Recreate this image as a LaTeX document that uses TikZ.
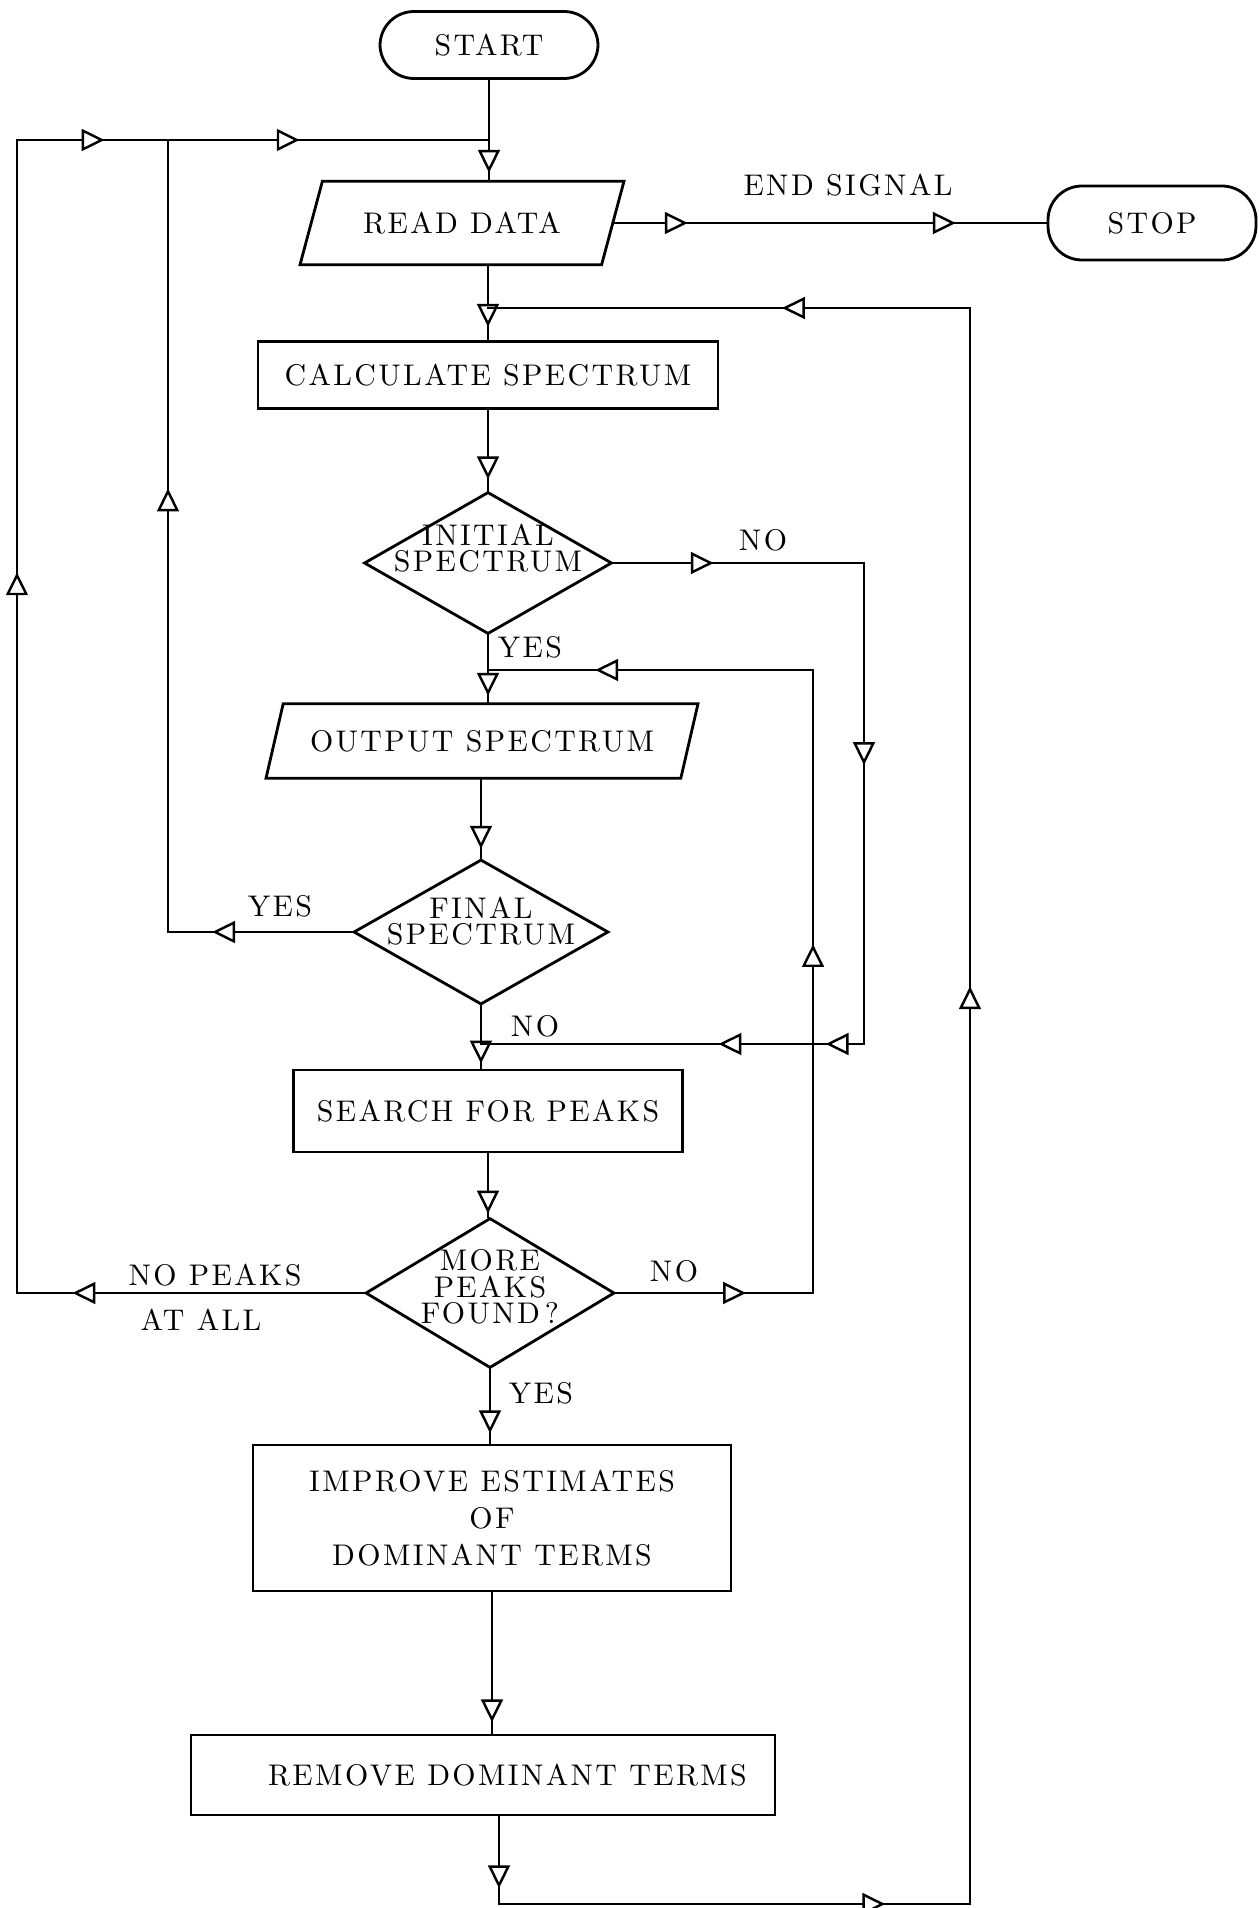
\documentclass[tikz,border=0pt]{standalone}
\usepackage{fontspec}
\setmainfont{lmroman10-regular.otf}[LetterSpace=8]
\usetikzlibrary{shapes.geometric, arrows.meta, decorations.markings}

\begin{document}
\begin{tikzpicture}[
    font=\fontsize{8.5}{10}\selectfont,
    line/.style={line width=0.7pt, line cap=rect},
    tipat/.style={postaction={decorate, decoration={markings,
        mark=at position #1 with {\arrow{Triangle[fill=white, length=6.5pt, width=6.2pt, line width=0.7pt]}}}}},
    term/.style={draw, line width=0.8pt, rectangle, rounded corners=0.34cm, inner sep=0pt},
    proc/.style={draw, line width=0.8pt, rectangle, inner sep=0pt, align=center},
    io/.style={draw, line width=0.8pt, trapezium, trapezium left angle=75, trapezium right angle=105,
        trapezium stretches body, inner xsep=0pt, text height=6pt, text depth=0pt},
    decide/.style={draw, line width=0.8pt, diamond, inner sep=0pt},
    diatext/.style={align=center, font=\fontsize{8.5}{7.6}\selectfont}
  ]
  \useasboundingbox (0,0) rectangle (12.58,-19.08);

  % --- boxes of the main column ---
  \node[term, minimum width=2.18cm, minimum height=0.67cm] (start) at (4.89,-0.45) {START};
  \node[io, inner ysep=8.9pt, minimum width=3.24cm] (read) at (4.62,-2.23) {READ DATA};
  \node[proc, minimum width=4.60cm, minimum height=0.67cm] (calc) at (4.88,-3.75) {CALCULATE SPECTRUM};
  \node[decide, minimum width=2.48cm, minimum height=1.42cm,
    label={[diatext, yshift=0.15cm]center:INITIAL\\SPECTRUM}] (init) at (4.88,-5.63) {};
  \node[io, trapezium left angle=77, trapezium right angle=103, inner ysep=7.6pt,
    minimum width=4.32cm] (output) at (4.82,-7.41) {OUTPUT SPECTRUM};
  \node[decide, minimum width=2.55cm, minimum height=1.45cm,
    label={[diatext, yshift=0.11cm]center:FINAL\\SPECTRUM}] (final) at (4.81,-9.32) {};
  \node[proc, minimum width=3.89cm, minimum height=0.82cm] (search) at (4.88,-11.11) {SEARCH FOR PEAKS};
  \node[decide, minimum width=2.49cm, minimum height=1.50cm,
    label={[diatext, yshift=0.06cm]center:MORE\\PEAKS\\FOUND\,?}] (more) at (4.90,-12.93) {};
  \node[proc, minimum width=4.78cm, minimum height=1.46cm, font=\fontsize{8.5}{10.5}\selectfont]
    (improve) at (4.92,-15.18) {IMPROVE ESTIMATES\\OF\\DOMINANT TERMS};
  \node[proc, minimum width=5.84cm, minimum height=0.80cm]
    (remove) at (4.83,-17.75) {\hspace*{0.49cm}REMOVE DOMINANT TERMS};
  \node[term, minimum width=2.08cm, minimum height=0.74cm] (stop) at (11.52,-2.23) {STOP};

  % --- corners of the loops ---
  \coordinate (tl) at (0.17,-1.40);
  \coordinate (tm) at (1.68,-1.40);
  \coordinate (ts) at (start.south |- tl);
  \coordinate (rr) at (9.70,-3.08);
  \coordinate (rb) at (4.99,-19.04);
  \coordinate (nr) at (8.64,-10.44);
  \coordinate (pr) at (8.13,-6.70);

  % --- main flow ---
  \draw[line, tipat=0.93] (start.south) -- (start.south |- read.north);
  \draw[line, tipat=0.82] (read.south -| calc.north) -- (calc.north);
  \draw[line, tipat=0.86] (calc.south) -- (init.north);
  \draw[line, tipat=0.9] (init.south) -- (init.south |- output.north);
  \draw[line, tipat=0.88] (final.north |- output.south) -- (final.north);
  \draw[line, tipat=0.92] (final.south) -- (final.south |- search.north);
  \draw[line, tipat=0.95] (search.south) -- (search.south |- more.north);
  \draw[line, tipat=0.86] (more.south) -- (more.south |- improve.north);
  \draw[line, tipat=0.92] (improve.south) -- (improve.south |- remove.north);

  % end signal
  \draw[line, tipat=0.17, tipat=0.79] (read.east) -- (read.east -| stop.west);

  % back to calculate spectrum
  \draw[line, tipat=0.82] (rb |- remove.south) -- (rb);
  \draw[line, tipat=0.82] (rb) -- (rb -| rr);
  \draw[line, tipat=0.575] (rb -| rr) -- (rr);
  \draw[line, tipat=0.39] (rr) -- (rr -| calc.north);

  % initial spectrum: no
  \draw[line, tipat=0.40] (init.east) -- (init.east -| nr);
  \draw[line, tipat=0.42] (init.east -| nr) -- (nr);
  \draw[line, tipat=0.10, tipat=0.38] (nr) -- (nr -| final.south);

  % more peaks: no
  \draw[line, tipat=0.66] (more.east) -- (more.east -| pr);
  \draw[line, tipat=0.56] (more.east -| pr) -- (pr);
  \draw[line, tipat=0.67] (pr) -- (pr -| init.south);

  % final spectrum: yes
  \draw[line, tipat=0.76] (final.west) -- (final.west -| tm);
  \draw[line, tipat=0.56] (final.west -| tm) -- (tm);

  % no peaks at all
  \draw[line, tipat=0.84] (more.west) -- (more.west -| tl);
  \draw[line, tipat=0.625] (more.west -| tl) -- (tl);
  \draw[line, tipat=0.58] (tl) -- (tm);
  \draw[line, tipat=0.41] (tm) -- (ts);

  % --- labels ---
  \node (endsig) at (8.48,-1.85) {END SIGNAL};
  \node (noinit) at (7.63,-5.40) {NO};
  \node (yesinit) at (5.30,-6.47) {YES};
  \node (yesfinal) at (2.80,-9.06) {YES};
  \node (nofinal) at (5.35,-10.26) {NO};
  \node (nopeaks) at (2.15,-12.75) {NO PEAKS};
  \node (atall) at (2.01,-13.20) {AT ALL};
  \node (nomore) at (6.74,-12.71) {NO};
  \node (yesmore) at (5.41,-13.93) {YES};
\end{tikzpicture}
\end{document}
